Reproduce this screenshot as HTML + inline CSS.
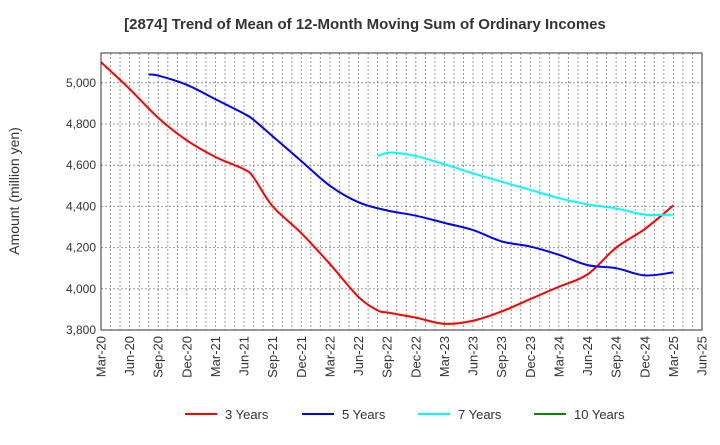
<!DOCTYPE html>
<html><head><meta charset="utf-8"><style>
body{margin:0;background:#fff;font-family:"Liberation Sans",sans-serif}
svg text{font-family:"Liberation Sans",sans-serif}
</style></head><body>
<svg id="c" width="720" height="440" xmlns="http://www.w3.org/2000/svg">
<text x="365" y="29" text-anchor="middle" font-size="15" font-weight="bold" fill="#333">[2874]  Trend of Mean of 12-Month Moving Sum of Ordinary Incomes</text>
<text transform="translate(19,191) rotate(-90)" text-anchor="middle" font-size="14" fill="#333">Amount (million yen)</text>
<g id="grid"></g><g id="series"></g><g id="axes"></g><g id="legend"></g>
</svg>
<script>
const xLabels=["Mar-20","Jun-20","Sep-20","Dec-20","Mar-21","Jun-21","Sep-21","Dec-21","Mar-22","Jun-22","Sep-22","Dec-22","Mar-23","Jun-23","Sep-23","Dec-23","Mar-24","Jun-24","Sep-24","Dec-24","Mar-25","Jun-25"];
const yTicks=[3800,4000,4200,4400,4600,4800,5000];
const redMonths=[0,3,6,9,12,15,16,18,21,24,27,29,30,33,36,39,42,45,48,51,54,57,60];
const redValues=[5100,4970,4830,4720,4640,4580,4540,4400,4270,4120,3960,3895,3885,3860,3830,3845,3890,3950,4010,4070,4200,4290,4405];
const blueMonths=[5,6,9,12,15,16,18,21,24,27,30,33,36,39,42,45,48,51,54,57,60];
const blueValues=[5040,5035,4990,4920,4850,4820,4740,4620,4500,4420,4380,4355,4320,4285,4230,4205,4165,4115,4100,4065,4080];
const cyanMonths=[29,30,31,33,36,39,42,45,48,51,54,57,60];
const cyanValues=[4645,4660,4660,4645,4605,4560,4520,4480,4440,4410,4390,4360,4360];
const L=101,R=702,T=53,B=330,NM=63;
const x=m=>L+m*(R-L)/NM;
const y=v=>B-(v-3800)*(41.2/200);
const NS="http://www.w3.org/2000/svg";
function mk(t,a,p){const e=document.createElementNS(NS,t);for(const k in a)e.setAttribute(k,a[k]);p.appendChild(e);return e;}
const g=document.getElementById('grid'),ax=document.getElementById('axes'),s=document.getElementById('series'),lg=document.getElementById('legend');
for(let m=1;m<NM;m++){const l=mk('line',{x1:x(m),x2:x(m),y1:T,y2:B,stroke:'#999','stroke-dasharray':'2,2','stroke-width':1},g);

}
yTicks.forEach(v=>{const l=mk('line',{x1:L,x2:R,y1:y(v),y2:y(v),stroke:'#999','stroke-dasharray':'2,2'},g);


const t=mk('text',{x:L-5,y:y(v)+4,'text-anchor':'end','font-size':12,fill:'#333'},ax);t.textContent=v.toLocaleString('en-US');

});
xLabels.forEach((lab,i)=>{const xx=x(i*3);const t=mk('text',{transform:`translate(${xx+4.5},${B+6}) rotate(-90)`,'text-anchor':'end','font-size':13,fill:'#333'},ax);t.textContent=lab;

});
const fr=mk('rect',{x:L,y:T,width:R-L,height:B-T,fill:'none',stroke:'#333'},ax);


function pathD(ms,vs){const P=ms.map((m,i)=>[x(m),y(vs[i])]);let d='M'+P[0][0]+','+P[0][1];
for(let i=0;i<P.length-1;i++){const p0=P[i-1]||P[i],p1=P[i],p2=P[i+1],p3=P[i+2]||p2;
d+=` C${p1[0]+(p2[0]-p0[0])/6},${p1[1]+(p2[1]-p0[1])/6} ${p2[0]-(p3[0]-p1[0])/6},${p2[1]-(p3[1]-p1[1])/6} ${p2[0]},${p2[1]}`;}return d;}
function series(ms,vs,c,n){const p=mk('path',{d:pathD(ms,vs),fill:'none',stroke:c,'stroke-width':2,'stroke-linejoin':'round'},s);

}
series(redMonths,redValues,'#f00','line-3-years');
series(blueMonths,blueValues,'#00f','line-5-years');
series(cyanMonths,cyanValues,'#0ff','line-7-years');
[["3 Years","#f00",185],["5 Years","#00f",302],["7 Years","#0ff",418],["10 Years","#080",534]].forEach(([n,c,lx])=>{
const gg=mk('g',{},lg);


mk('line',{x1:lx,x2:lx+32,y1:414,y2:414,stroke:c,'stroke-width':2},gg);
const t=mk('text',{x:lx+40,y:419,'font-size':13,fill:'#333'},gg);t.textContent=n;});
</script>
</body></html>
